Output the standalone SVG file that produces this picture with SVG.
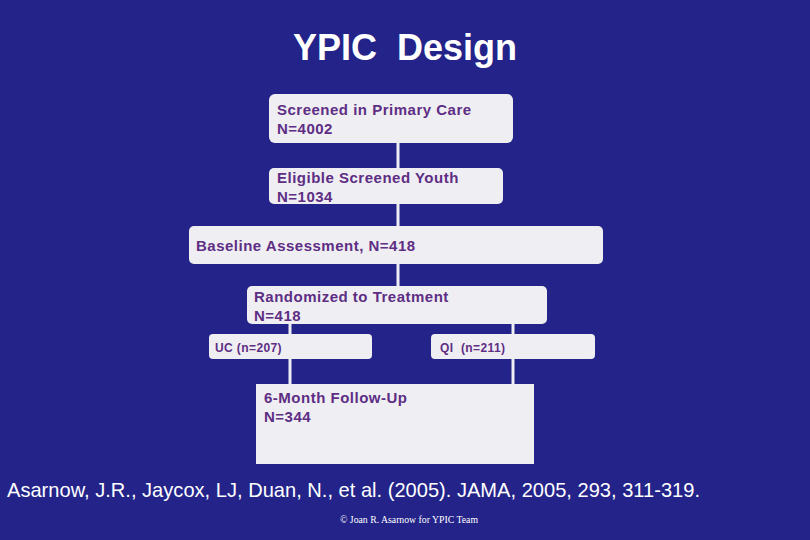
<svg xmlns="http://www.w3.org/2000/svg" width="810" height="540" viewBox="0 0 810 540">
<style>
.box{fill:#efeff3;}
.lbl{font-family:"Liberation Sans",Arial,sans-serif;font-weight:bold;font-size:15px;fill:#5e2d84;letter-spacing:0.5px;}
.sm{font-size:12px;letter-spacing:0.4px;}
.conn{stroke:#efeff3;stroke-width:3;fill:none;}
</style>
<rect width="810" height="540" fill="#23238a"/>
<text x="405" y="60" text-anchor="middle" font-family="'Liberation Sans',Arial,sans-serif" font-weight="bold" font-size="36" fill="#ffffff" xml:space="preserve">YPIC  Design</text>
<g id="connectors">
<line class="conn" x1="398" y1="143" x2="398" y2="168"/>
<line class="conn" x1="398" y1="204" x2="398" y2="226"/>
<line class="conn" x1="398" y1="264" x2="398" y2="286"/>
<line class="conn" x1="290" y1="324" x2="290" y2="334"/>
<line class="conn" x1="513" y1="324" x2="513" y2="334"/>
<line class="conn" x1="290" y1="359" x2="290" y2="384"/>
<line class="conn" x1="513" y1="359" x2="513" y2="384"/>
</g>
<g id="screened">
<rect class="box" x="269" y="94" width="244" height="49" rx="6"/>
<text class="lbl" x="277" y="115">Screened in Primary Care</text>
<text class="lbl" x="277" y="134">N=4002</text>
</g>
<g id="eligible">
<rect class="box" x="269" y="168" width="234" height="36" rx="5"/>
<text class="lbl" x="277" y="183">Eligible Screened Youth</text>
<text class="lbl" x="277" y="202">N=1034</text>
</g>
<g id="baseline">
<rect class="box" x="189" y="226" width="414" height="38" rx="5"/>
<text class="lbl" x="196" y="251">Baseline Assessment, N=418</text>
</g>
<g id="randomized">
<rect class="box" x="247" y="286" width="300" height="38" rx="5"/>
<text class="lbl" x="254" y="302">Randomized to Treatment</text>
<text class="lbl" x="254" y="321">N=418</text>
</g>
<g id="uc">
<rect class="box" x="209" y="334" width="163" height="25" rx="4"/>
<text class="lbl sm" x="215" y="352">UC (n=207)</text>
</g>
<g id="qi">
<rect class="box" x="431" y="334" width="164" height="25" rx="4"/>
<text class="lbl sm" x="440" y="352" xml:space="preserve">QI  (n=211)</text>
</g>
<g id="followup">
<rect class="box" x="256" y="384" width="278" height="80"/>
<text class="lbl" x="264" y="403">6-Month Follow-Up</text>
<text class="lbl" x="264" y="422">N=344</text>
</g>
<text x="7" y="497" font-family="'Liberation Sans',Arial,sans-serif" font-size="21" fill="#ffffff" textLength="693" lengthAdjust="spacingAndGlyphs">Asarnow, J.R., Jaycox, LJ, Duan, N., et al. (2005). JAMA, 2005, 293, 311-319.</text>
<text x="409" y="523" text-anchor="middle" font-family="'Liberation Serif','Times New Roman',serif" font-size="10" fill="#ffffff" textLength="138" lengthAdjust="spacingAndGlyphs">© Joan R. Asarnow for YPIC Team</text>
</svg>
